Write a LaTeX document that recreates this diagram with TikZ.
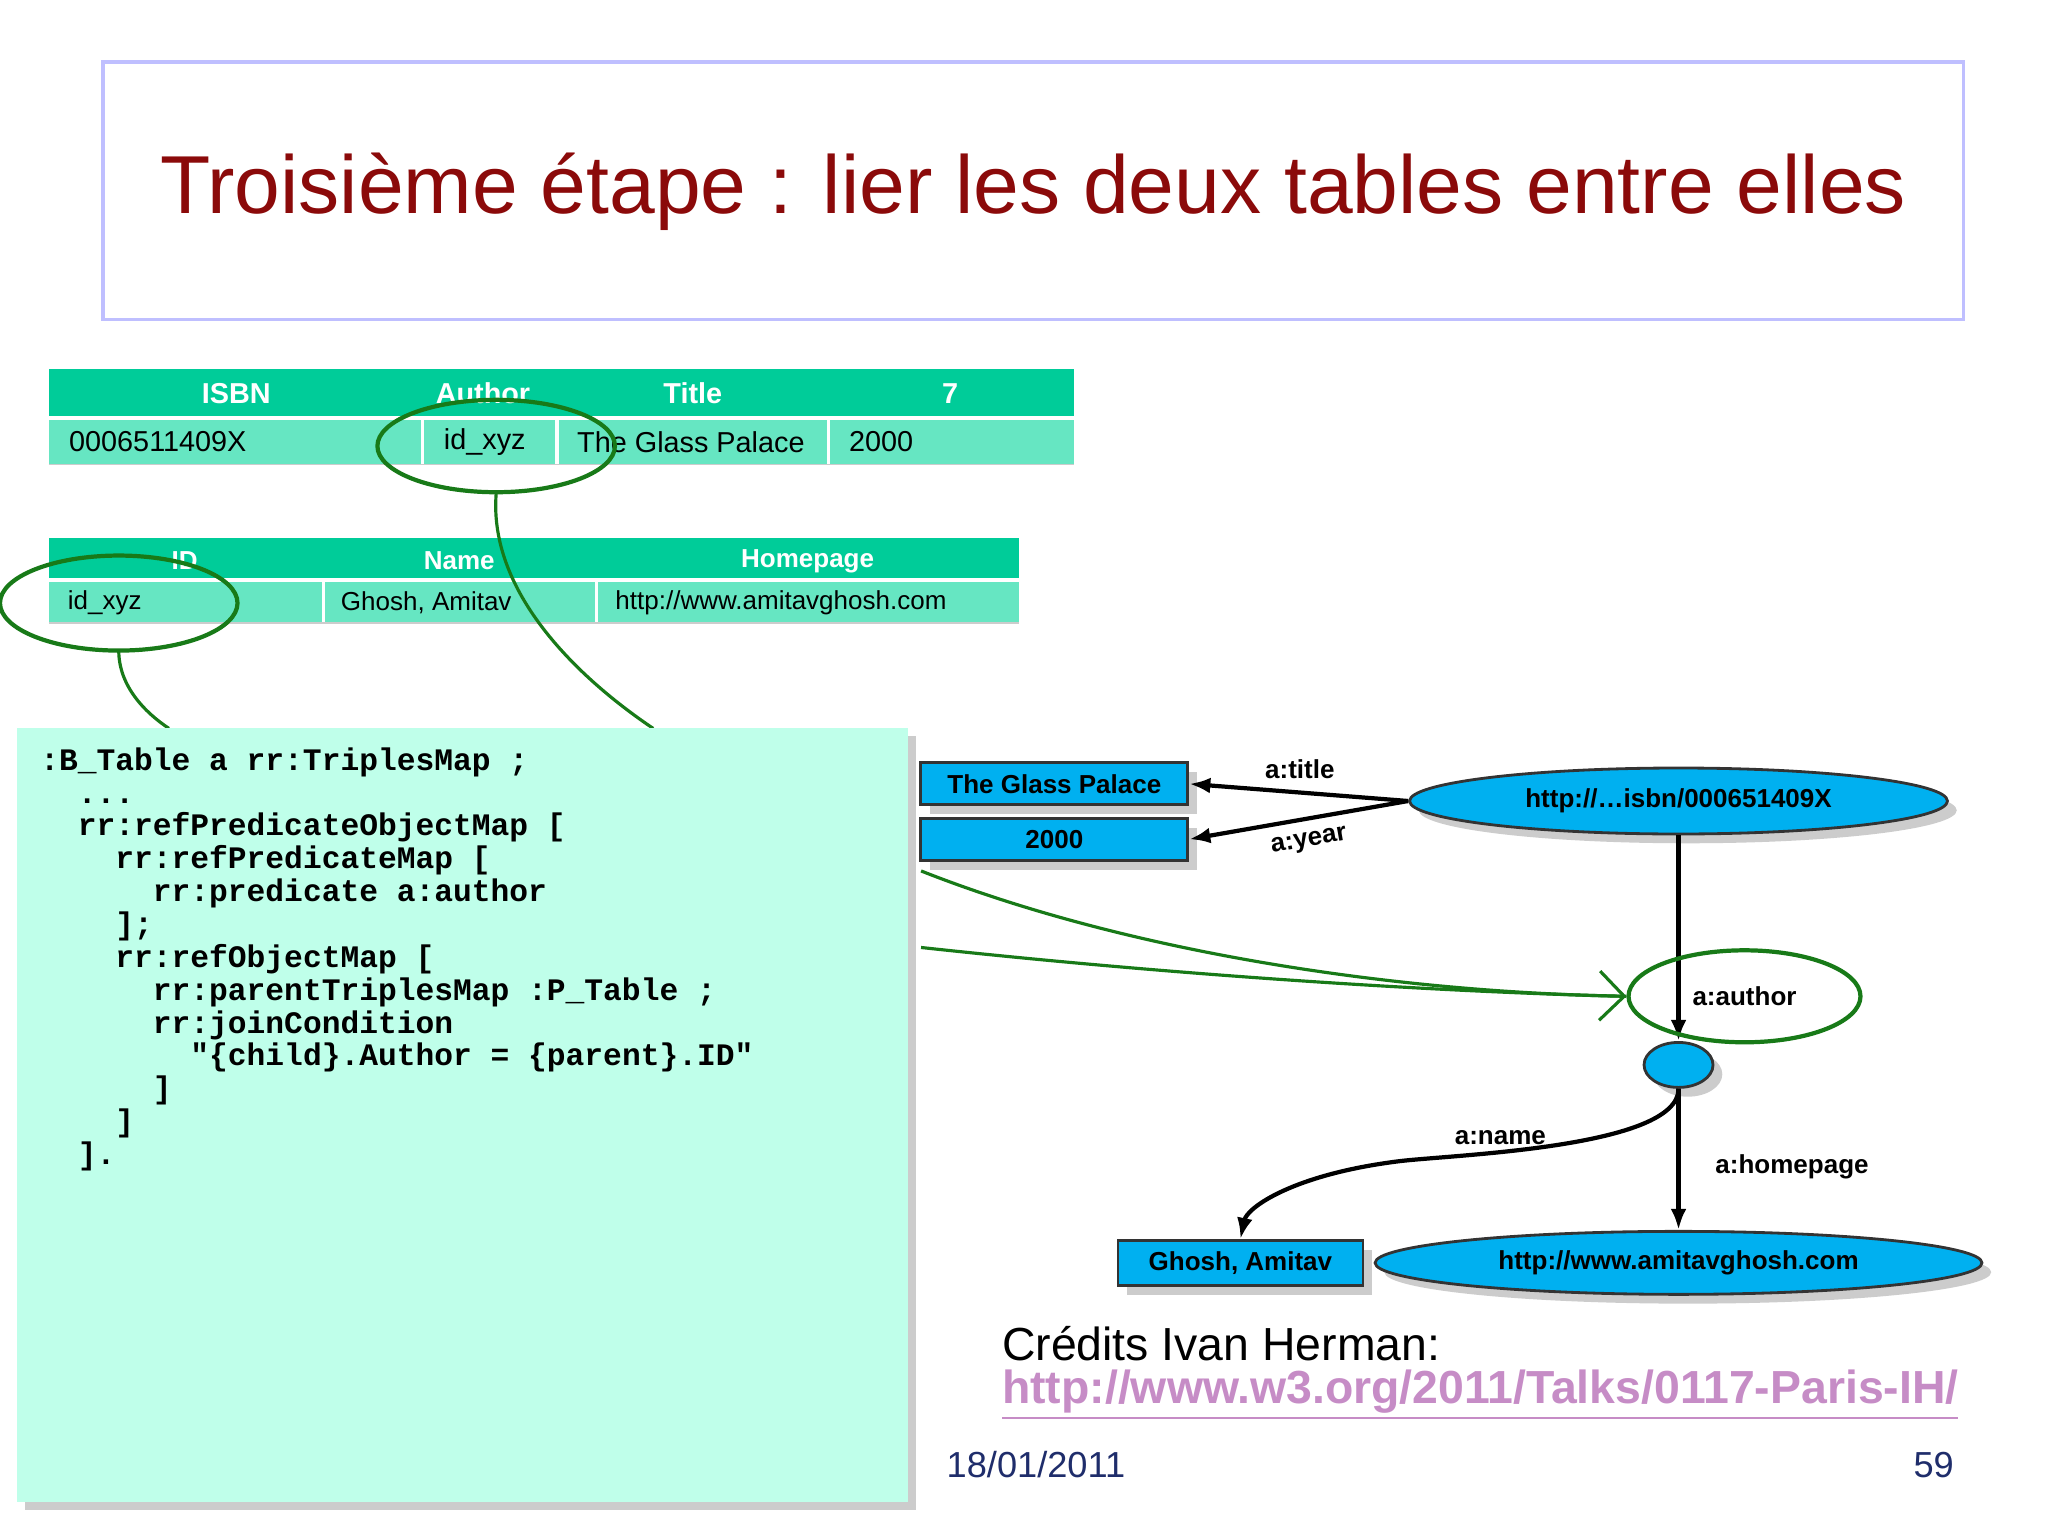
\documentclass[tikz,border=0pt]{standalone}
\usepackage{fontspec}
\setmainfont{Liberation Sans}
\setmonofont{Liberation Mono}
\usetikzlibrary{arrows.meta,shadows,shapes.geometric}
\definecolor{hdr}{HTML}{00CC99}
\definecolor{rowc}{HTML}{66E6C2}
\definecolor{codebg}{HTML}{BFFFEA}
\definecolor{blu}{HTML}{00B0F0}
\definecolor{dgreen}{HTML}{187A18}
\definecolor{dred}{HTML}{8B0A0A}
\definecolor{navy}{HTML}{1F2D6B}
\tikzset{
 gfont/.style={font=\bfseries\fontsize{7.4}{9}\selectfont},
 gbox/.style={draw=black!80,fill=blu,line width=0.8pt,drop shadow={opacity=0.4},gfont,inner sep=0pt},
 gell/.style={ellipse,draw=black!80,fill=blu,line width=0.8pt,drop shadow={opacity=0.4},gfont,inner sep=0pt},
 hl/.style={draw=dgreen,line width=1.2pt},
 arr/.style={-{Latex[length=6pt]},line width=1.2pt},
 lbl/.style={gfont},
 tcell/.style={anchor=west,font=\fontsize{8.2}{10}\selectfont},
 tcellb/.style={anchor=west,font=\fontsize{7.4}{9}\selectfont},
 thead/.style={font=\bfseries\fontsize{8.2}{10}\selectfont,text=white},
 theadb/.style={font=\bfseries\fontsize{7.4}{9}\selectfont,text=white},
}
\begin{document}
\begin{tikzpicture}[x=0.013196cm,y=-0.013196cm]
\useasboundingbox (0,0) rectangle (1552,1164);
\fill[white] (0,0) rectangle (1552,1164);
% title
\draw[draw=blue!25,line width=1pt] (78,47) rectangle (1488,242);
\node[text=dred,font=\fontsize{23.4}{28}\selectfont] (title) at (783,145) {Troisième étape : lier les deux tables entre elles};
% table 1
\fill[hdr] (37,280) rectangle (814,315);
\fill[rowc] (37,318) rectangle (814,352);
\draw[white,line width=1pt] (320,318)--(320,352) (422,318)--(422,352) (628,318)--(628,352);
\draw[black!20] (37,352)--(814,352);
\node[thead] (h1) at (179,298) {ISBN};
\node[thead] (h2) at (366,298) {Author};
\node[thead] (h3) at (525,298) {Title};
\node[thead] (h4) at (720,298) {7};
\node[tcell] (c1) at (43,335) {0006511409X};
\node[tcell] (c2) at (327,335) {id\_xyz};
\node[tcell] (c3) at (428,335) {The Glass Palace};
\node[tcell] (c4) at (634,335) {2000};
% table 2
\fill[hdr] (37,408) rectangle (772,438);
\fill[rowc] (37,441) rectangle (772,472);
\draw[white,line width=1pt] (245,441)--(245,472) (452,441)--(452,472);
\draw[black!20] (37,472)--(772,472);
\node[theadb] (g1) at (140,425) {ID};
\node[theadb] (g2) at (348,425) {Name};
\node[theadb] (g3) at (612,425) {Homepage};
\node[tcellb] (d1) at (42,457) {id\_xyz};
\node[tcellb] (d2) at (249,457) {Ghosh, Amitav};
\node[tcellb] (d3) at (457,457) {http://www.amitavghosh.com};
% highlight ellipses
\draw[hl] (376,338) ellipse [x radius=90,y radius=35];
\draw[hl] (90,457) ellipse [x radius=90,y radius=36];
\coordinate (e1b) at (376,374);
\coordinate (e2b) at (90,493);
\coordinate (k1) at (128,552);
\coordinate (k2) at (495,552);
\draw[dgreen,line width=0.9pt] (e2b) .. controls (90,520) and (110,540) .. (k1);
\draw[dgreen,line width=0.9pt] (e1b) .. controls (370,450) and (440,515) .. (k2);
% code box
\fill[black!20] (19,558) rectangle (694,1144);
\fill[codebg] (13,552) rectangle (688,1138);
\node[anchor=north west,align=left,inner sep=0pt,font=\ttfamily\bfseries\fontsize{8.9}{9.35}\selectfont] (code) at (30,566) {%
:B\_Table a rr:TriplesMap ;\\
\ \ ...\\
\ \ rr:refPredicateObjectMap [\\
\ \ \ \ rr:refPredicateMap [\\
\ \ \ \ \ \ rr:predicate a:author\\
\ \ \ \ ];\\
\ \ \ \ rr:refObjectMap [\\
\ \ \ \ \ \ rr:parentTriplesMap :P\_Table ;\\
\ \ \ \ \ \ rr:joinCondition\\
\ \ \ \ \ \ \ \ "\{child\}.Author = \{parent\}.ID"\\
\ \ \ \ \ \ ]\\
\ \ \ \ ]\\
\ \ ].};
% graph
\node[gbox,minimum width=2.67cm,minimum height=0.42cm] (tgp) at (799,594) {The Glass Palace};
\node[gbox,minimum width=2.67cm,minimum height=0.42cm] (y2000) at (799,636) {2000};
\node[gell,minimum width=5.38cm,minimum height=0.66cm] (isbn) at (1272,607) {http://\dots isbn/000651409X};
\node[gell,minimum width=0.69cm,minimum height=0.45cm] (bn) at (1272,807) {};
\node[gbox,minimum width=2.45cm,minimum height=0.45cm] (ghosh) at (940,957) {Ghosh, Amitav};
\node[gell,minimum width=6.07cm,minimum height=0.63cm] (url) at (1272,957) {http://www.amitavghosh.com};
\draw[arr] (isbn.west) -- (tgp.east);
\draw[arr] (isbn.west) -- (y2000.east);
\node[lbl] (lt) at (985,583) {a:title};
\node[lbl,rotate=10] (ly) at (992,638) {a:year};
\draw[arr] (isbn.south) -- (bn.north);
\draw[arr] (bn.south) .. controls (1272,870) and (1100,875) .. (1060,880) .. controls (980,890) and (945,915) .. (ghosh.north);
\draw[arr] (bn.south) -- (url.north);
\node[lbl] (ln) at (1137,862) {a:name};
\node[lbl] (lh) at (1358,884) {a:homepage};
% author highlight
\node[ellipse,hl,minimum width=2.32cm,minimum height=0.92cm,lbl] (auth) at (1322,755) {a:author};
\coordinate (s1) at (698,660);
\coordinate (s2) at (698,718);
\draw[dgreen,line width=0.9pt] (s1) .. controls (850,720) and (1050,752) .. (auth.west);
\draw[dgreen,line width=0.9pt,-{Straight Barb[length=7pt]}] (s2) .. controls (900,740) and (1100,752) .. (auth.west);
% credits
\node[anchor=west,font=\fontsize{13.2}{16}\selectfont] (cred) at (750,1018) {Crédits Ivan Herman:};
\node[anchor=west,font=\bfseries\fontsize{13.2}{16}\selectfont,text=violet!45] (link) at (750,1057) {\underline{http://www.w3.org/2011/Talks/0117-Paris-IH/}};
\node[anchor=west,text=navy,font=\fontsize{10.3}{12}\selectfont] (date) at (708,1110) {18/01/2011};
\node[anchor=east,text=navy,font=\fontsize{10.3}{12}\selectfont] (pg) at (1490,1110) {59};
\end{tikzpicture}
\end{document}
